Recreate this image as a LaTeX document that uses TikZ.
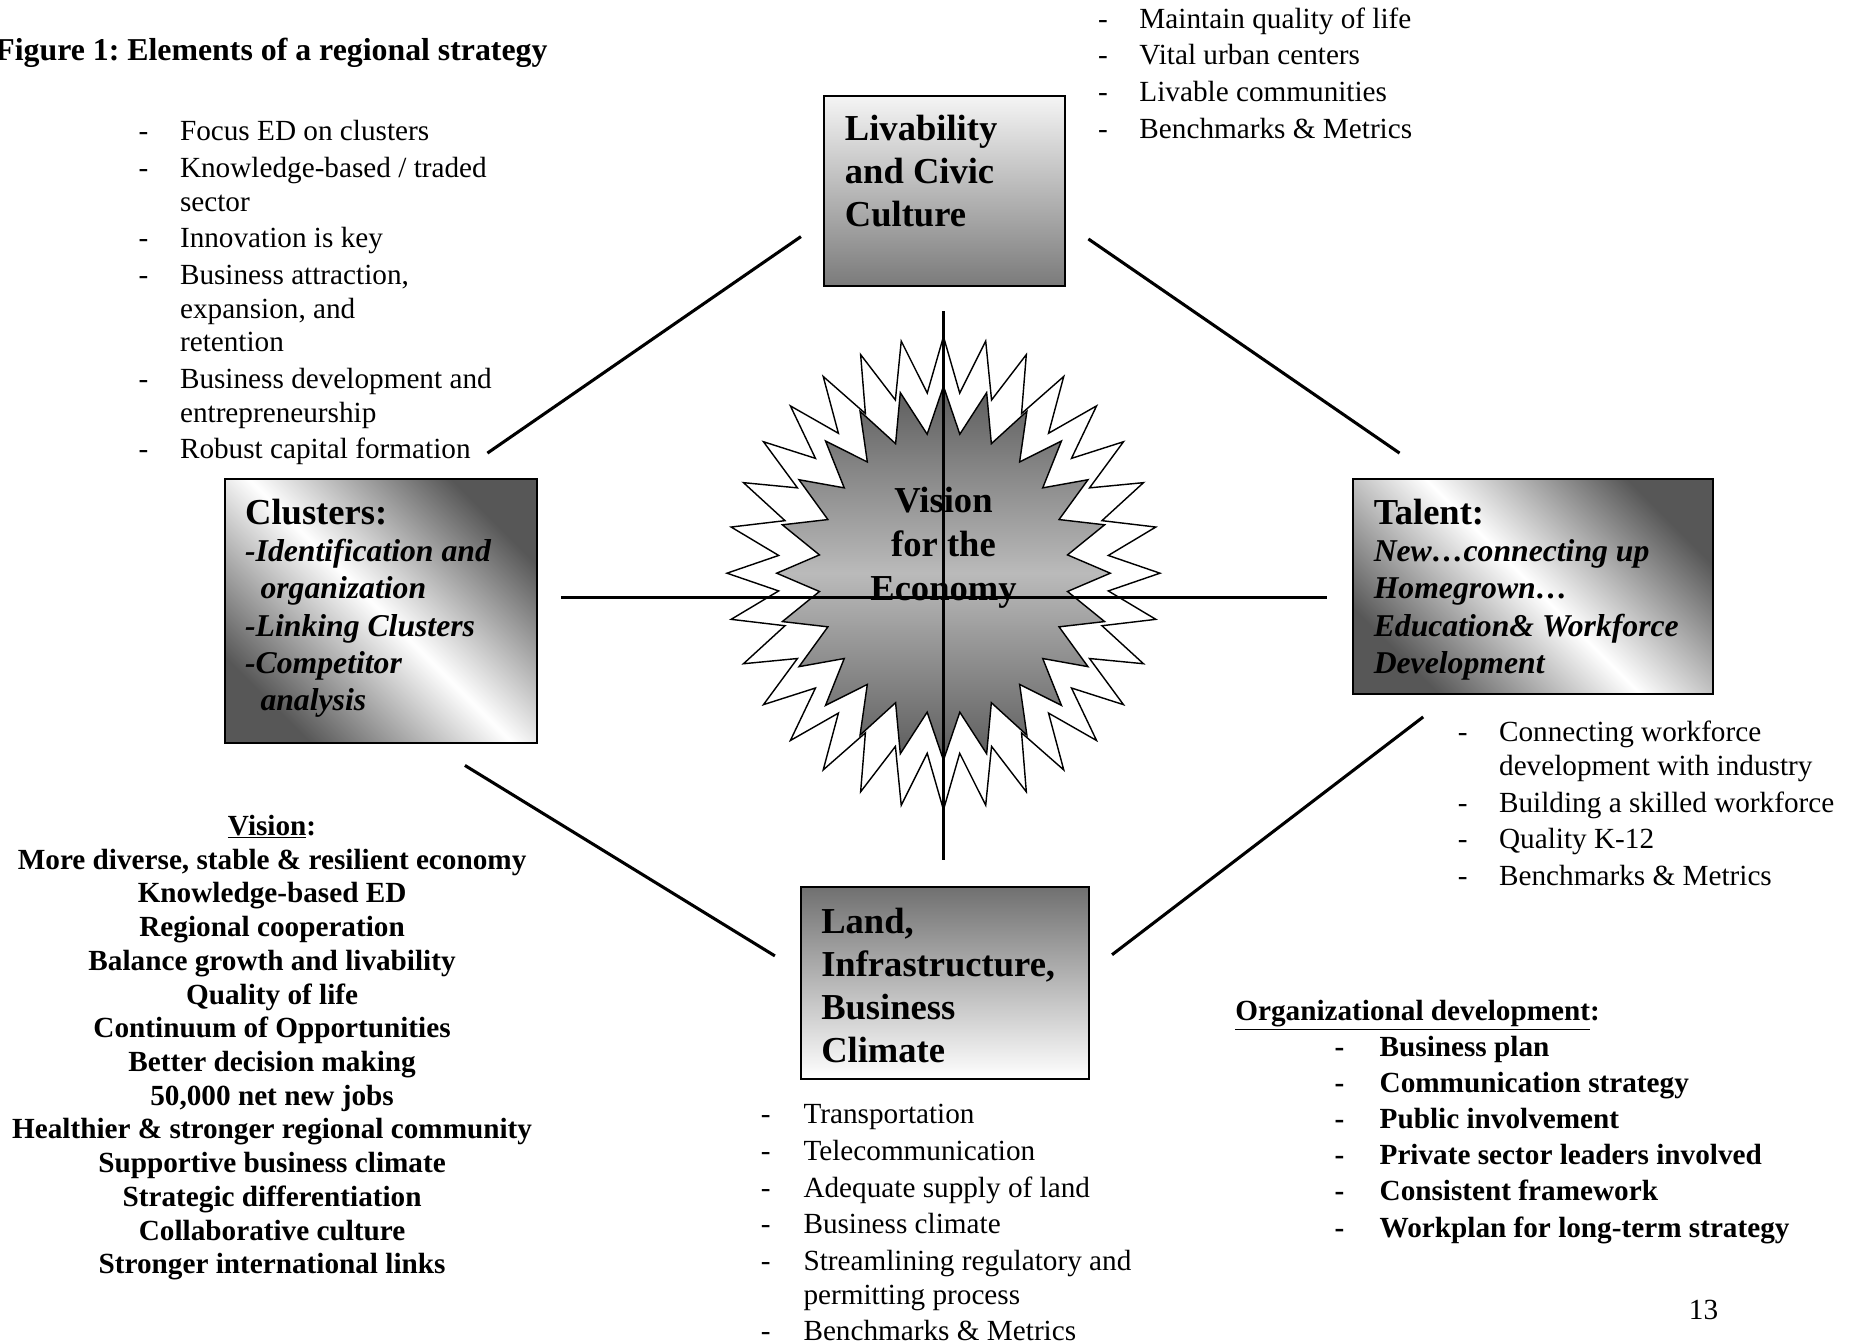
\documentclass[tikz,border=0pt]{standalone}
\usepackage{fontspec}
\setmainfont{Liberation Serif}
\frenchspacing
\tikzset{
  boxframe/.style={draw, line width=1.7pt, inner sep=0pt, anchor=north west},
  downshade/.style={top color=black!4, bottom color=black!52},
  upshade/.style={top color=black!56, bottom color=white},
  diagshade/.style={top color=black!66, bottom color=black!66, middle color=white, shading angle=-45},
  boxhead/.style={anchor=north west, inner sep=0pt, font=\bfseries\fontsize{30.9}{36.5}\selectfont},
  boxlist/.style={anchor=north west, inner sep=0pt, font=\bfseries\itshape\fontsize{26.8}{31.5}\selectfont},
  listtext/.style={anchor=north west, inner sep=0pt, font=\fontsize{24.7}{31}\selectfont},
  burst/.style={draw, line width=1.2pt, fill=white},
  core/.style={draw, line width=1.2pt, top color=black!64, bottom color=black!64, middle color=black!27},
  spoke/.style={line width=2.6pt}
}
\begin{document}
\begin{tikzpicture}[x=1pt,y=-1pt]
\useasboundingbox (0,0) rectangle (1568,1136);

% title
\node[anchor=base east, inner sep=0pt, font=\bfseries\fontsize{26.9}{32}\selectfont] (title) at (463,51) {Figure 1: Elements of a regional strategy};

% the four boxes
\node[boxframe, downshade, minimum width=203, minimum height=161] (livab) at (696,80) {};
\node[boxframe, diagshade, minimum width=264, minimum height=223] (clust) at (189,404) {};
\node[boxframe, diagshade, minimum width=304, minimum height=182] (talent) at (1143,404) {};
\node[boxframe, upshade, minimum width=244, minimum height=162] (land) at (676,749) {};

\node[boxhead] (livabtext) at (714,93) {\begin{tabular}{@{}l@{}}Livability\\and Civic\\Culture\end{tabular}};
\node[boxlist] (clusttext) at (207,421) {\begin{tabular}{@{}l@{}}
  {\upshape\fontsize{30.9}{31.5}\selectfont Clusters:}\\
  -Identification and\\
  \hspace{13pt}organization\\
  -Linking Clusters\\
  -Competitor\\
  \hspace{13pt}analysis
\end{tabular}};
\node[boxlist] (talenttext) at (1161,421) {\begin{tabular}{@{}l@{}}
  {\upshape\fontsize{30.9}{31.5}\selectfont Talent:}\\
  New…connecting up\\
  Homegrown…\\
  Education\& Workforce\\
  Development
\end{tabular}};
\node[boxhead] (landtext) at (694,763) {\begin{tabular}{@{}l@{}}Land,\\Infrastructure,\\Business\\Climate\end{tabular}};

% bullet lists
\node[listtext] (livablist) at (928,2) {\begin{tabular}{@{}p{35pt}@{}l@{}}
  - & Maintain quality of life\\
  - & Vital urban centers\\
  - & Livable communities\\
  - & Benchmarks \& Metrics
\end{tabular}};
\node[listtext] (clustlist) at (117,97) {\begin{tabular}{@{}p{35pt}@{}l@{}}
  - & Focus ED on clusters\\
  - & Knowledge-based / traded\\[-2.5pt]
    & sector\\
  - & Innovation is key\\
  - & Business attraction,\\[-2.5pt]
    & expansion, and\\[-2.5pt]
    & retention\\
  - & Business development and\\[-2.5pt]
    & entrepreneurship\\
  - & Robust capital formation
\end{tabular}};
\node[listtext] (talentlist) at (1232,605) {\begin{tabular}{@{}p{35pt}@{}l@{}}
  - & Connecting workforce\\[-2.5pt]
    & development with industry\\
  - & Building a skilled workforce\\
  - & Quality K-12\\
  - & Benchmarks \& Metrics
\end{tabular}};
\node[listtext] (landlist) at (643,928) {\begin{tabular}{@{}p{36pt}@{}l@{}}
  - & Transportation\\
  - & Telecommunication\\
  - & Adequate supply of land\\
  - & Business climate\\
  - & Streamlining regulatory and\\[-2.5pt]
    & permitting process\\
  - & Benchmarks \& Metrics
\end{tabular}};

% vision and organization
\node[anchor=north, inner sep=0pt, font=\bfseries\fontsize{24.7}{28.5}\selectfont] (visionlist) at (230,686) {\begin{tabular}{@{}c@{}}
  \underline{Vision}:\\
  More diverse, stable \& resilient economy\\
  Knowledge-based ED\\
  Regional cooperation\\
  Balance growth and livability\\
  Quality of life\\
  Continuum of Opportunities\\
  Better decision making\\
  50,000 net new jobs\\
  Healthier \& stronger regional community\\
  Supportive business climate\\
  Strategic differentiation\\
  Collaborative culture\\
  Stronger international links
\end{tabular}};
\node[anchor=base west, inner sep=0pt, font=\bfseries\fontsize{24.7}{31}\selectfont] (orghead) at (1044,863) {\underline{Organizational development}:};
\node[listtext, font=\bfseries\fontsize{24.7}{30.6}\selectfont] (orglist) at (1128,871) {\begin{tabular}{@{}p{38pt}@{}l@{}}
  - & Business plan\\
  - & Communication strategy\\
  - & Public involvement\\
  - & Private sector leaders involved\\
  - & Consistent framework\\
  - & Workplan for long-term strategy
\end{tabular}};
\node[anchor=base, inner sep=0pt, font=\fontsize{24.7}{31}\selectfont] (pagenum) at (1440,1115) {13};

% the burst in the middle
\begin{scope}[shift={(797.5,484.5)}]
  \draw[burst] (90:183 and 200) \foreach \k [evaluate=\k as \r using {1-0.235*mod(\k,2)}] in {1,...,63} {-- ({90+5.625*\k}:{183*\r} and {200*\r})} -- cycle;
  \draw[core] (90:141 and 158) \foreach \k [evaluate=\k as \r using {1-0.25*mod(\k,2)}] in {1,...,47} {-- ({90+7.5*\k}:{141*\r} and {158*\r})} -- cycle;
\end{scope}
\node[align=center, inner sep=0pt, font=\bfseries\fontsize{30.9}{37}\selectfont] (vision) at (797.5,463) {Vision\\for the\\Economy};

% spokes
\coordinate (hw) at (474,505);  \coordinate (he) at (1122,505);
\coordinate (vn) at (797.5,263); \coordinate (vs) at (797.5,727);
\coordinate (nwa) at (412,383); \coordinate (nwb) at (677,200);
\coordinate (nea) at (920,202); \coordinate (neb) at (1183,383);
\coordinate (swa) at (393,647); \coordinate (swb) at (655,808);
\coordinate (sea) at (940,807); \coordinate (seb) at (1203,606);
\draw[spoke] (hw) -- (he);
\draw[spoke] (vn) -- (vs);
\draw[spoke] (nwa) -- (nwb);
\draw[spoke] (nea) -- (neb);
\draw[spoke] (swa) -- (swb);
\draw[spoke] (sea) -- (seb);
\end{tikzpicture}
\end{document}
